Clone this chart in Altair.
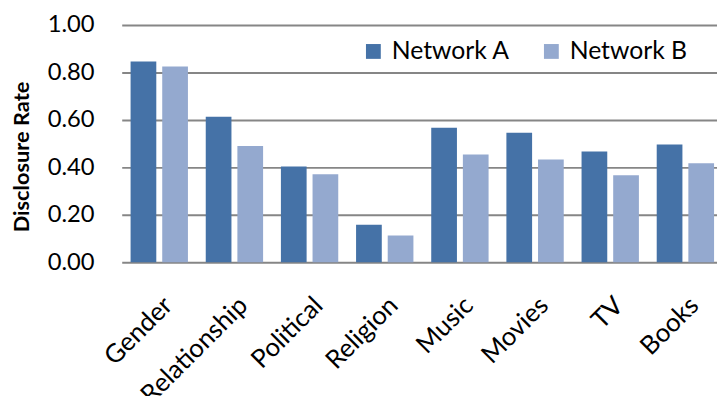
import altair as alt
import pandas as pd

categories = ["Gender", "Relationship", "Political", "Religion", "Music", "Movies", "TV", "Books"]
network_a = [0.846, 0.613, 0.404, 0.158, 0.567, 0.546, 0.467, 0.496]
network_b = [0.825, 0.490, 0.371, 0.113, 0.454, 0.433, 0.367, 0.417]
series = ["Network A", "Network B"]
colors = ["#4572A7", "#94A9CF"]
y_ticks = [0.0, 0.2, 0.4, 0.6, 0.8, 1.0]

rows = []
for c, a, b in zip(categories, network_a, network_b):
    rows.append({"category": c, "series": series[0], "value": a})
    rows.append({"category": c, "series": series[1], "value": b})
df = pd.DataFrame(rows)

chart = alt.Chart(df).mark_bar().encode(
    x=alt.X(
        "category:N",
        sort=categories,
        scale=alt.Scale(range=[0, 608], paddingInner=0.237, paddingOuter=0.118),
        axis=alt.Axis(
            title=None, labelAngle=-45, labelFontSize=26, labelPadding=30,
            ticks=False, tickSize=0, domain=False, labelOverlap=False, labelColor="#000",
        ),
    ),
    xOffset=alt.XOffset("series:N", sort=series, scale=alt.Scale(paddingInner=0.1875, paddingOuter=0)),
    y=alt.Y(
        "value:Q",
        scale=alt.Scale(domain=[0, 1]),
        axis=alt.Axis(
            title="Disclosure Rate", values=y_ticks, format=".2f",
            labelFontSize=24, labelPadding=28, labelColor="#000",
            ticks=False, tickSize=0, domain=False,
            gridColor="#868686", gridWidth=2, gridOpacity=1,
            titleFontSize=22, titleFontWeight="bold", titleColor="#000",
            titleX=-101, titleY=133, titleAlign="center", titleBaseline="middle", titleAngle=270,
        ),
    ),
    color=alt.Color(
        "series:N",
        sort=series,
        scale=alt.Scale(domain=series, range=colors),
        legend=alt.Legend(
            title=None, orient="none", legendX=242, legendY=14, direction="horizontal",
            symbolType="square", symbolSize=225, symbolStrokeWidth=0, symbolOpacity=1,
            labelFontSize=25, labelOffset=6, columnPadding=29, padding=0, labelColor="#000",
        ),
    ),
).properties(
    width=602,
    height=240,
    autosize=alt.AutoSizeParams(type="none"),
    padding={"left": 115, "top": 15, "right": 0, "bottom": 133},
).configure(font="Lato").configure_view(stroke=None)

chart.save("out.html", embed_options={"renderer": "svg", "actions": False})
